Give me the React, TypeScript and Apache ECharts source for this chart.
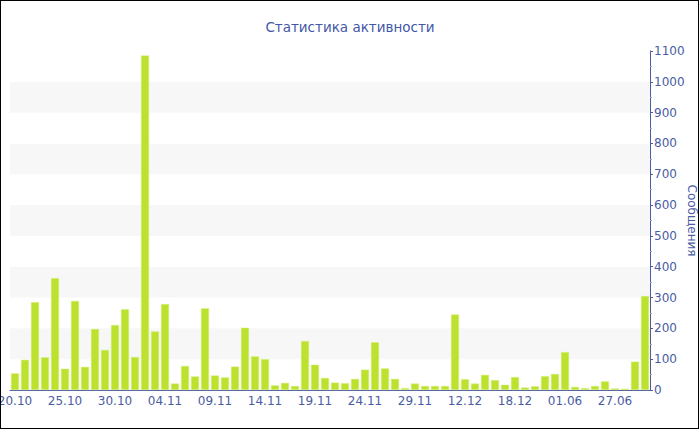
import React, { useEffect, useRef } from "react";
import * as echarts from "echarts";

const categories = [
  "20.10", "21.10", "22.10", "23.10", "24.10", "25.10", "26.10", "27.10", "28.10", "29.10",
  "30.10", "31.10", "01.11", "02.11", "03.11", "04.11", "05.11", "06.11", "07.11", "08.11",
  "09.11", "10.11", "11.11", "12.11", "13.11", "14.11", "15.11", "16.11", "17.11", "18.11",
  "19.11", "20.11", "21.11", "22.11", "23.11", "24.11", "25.11", "26.11", "27.11", "28.11",
  "29.11", "30.11", "02.12", "05.12", "09.12", "12.12", "13.12", "14.12", "15.12", "16.12",
  "18.12", "19.12", "20.12", "22.12", "25.12", "01.06", "05.06", "10.06", "15.06", "21.06",
  "27.06", "03.07", "10.07", "17.07",
];

const messages = [
  54, 98, 285, 106, 363, 69, 289, 75, 198, 130,
  211, 262, 107, 1085, 190, 279, 21, 78, 44, 265,
  47, 41, 76, 202, 109, 100, 15, 23, 13, 159,
  82, 39, 24, 22, 36, 66, 155, 70, 36, 6,
  21, 13, 13, 13, 245, 35, 21, 49, 32, 17,
  42, 8, 12, 45, 52, 123, 10, 6, 13, 28,
  5, 4, 92, 305,
];

const titleText = "Статистика активности";
const yAxisName = "Сообщения";

export default function App() {
  const ref = useRef<HTMLDivElement>(null);
  useEffect(() => {
    document.body.style.margin = "0";
    const chart = echarts.init(ref.current!, null, { renderer: "svg" });
    const blue = "#4a5ca3";
    const font = "DejaVu Sans";
    chart.setOption({
      animation: false,
      title: {
        text: titleText,
        left: "center",
        top: 15,
        textStyle: { color: "#4257a8", fontSize: 13.5, fontWeight: "normal", fontFamily: font },
      },
      grid: { left: 10, right: 50, top: 51, bottom: 40, containLabel: false, outerBoundsMode: "none" },
      xAxis: {
        type: "category",
        data: categories,
        axisLine: { lineStyle: { color: blue, width: 1 } },
        axisTick: { show: false },
        axisLabel: { interval: 4, color: blue, fontSize: 12, fontFamily: font, margin: 5 },
        splitLine: { show: false },
      },
      yAxis: {
        type: "value",
        position: "right",
        min: 0,
        max: 1100,
        interval: 100,
        name: yAxisName,
        nameLocation: "middle",
        nameRotate: -90,
        nameGap: 36,
        nameMoveOverlap: false,
        nameTextStyle: { color: blue, fontSize: 12, fontFamily: font },
        axisLine: { show: true, lineStyle: { color: blue } },
        axisTick: { show: true, length: 3, lineStyle: { color: blue } },
        minorTick: { show: true, splitNumber: 2, length: 2, lineStyle: { color: "#9aa5c8" } },
        axisLabel: { color: blue, fontSize: 12, fontFamily: font, margin: 4, formatter: (v: number) => String(v) },
        splitLine: { show: false },
        splitArea: { show: true, areaStyle: { color: ["#ffffff", "#f7f7f7"] } },
      },
      series: [
        {
          type: "bar",
          data: messages,
          barCategoryGap: "20%",
          itemStyle: { color: "#bce22f", borderColor: "#d4ee7a", borderWidth: 0.5 },
        },
      ],
    });
    return () => chart.dispose();
  }, []);
  return (
    <div style={{ position: "relative", width: 700, height: 430, overflow: "hidden", background: "#fff" }}>
      <div ref={ref} style={{ position: "absolute", left: 0, top: 0, width: 700, height: 430 }} />
      <div
        style={{
          position: "absolute",
          left: 0,
          top: 0,
          width: 699,
          height: 429,
          boxSizing: "border-box",
          border: "1px solid #000",
          pointerEvents: "none",
        }}
      />
    </div>
  );
}
